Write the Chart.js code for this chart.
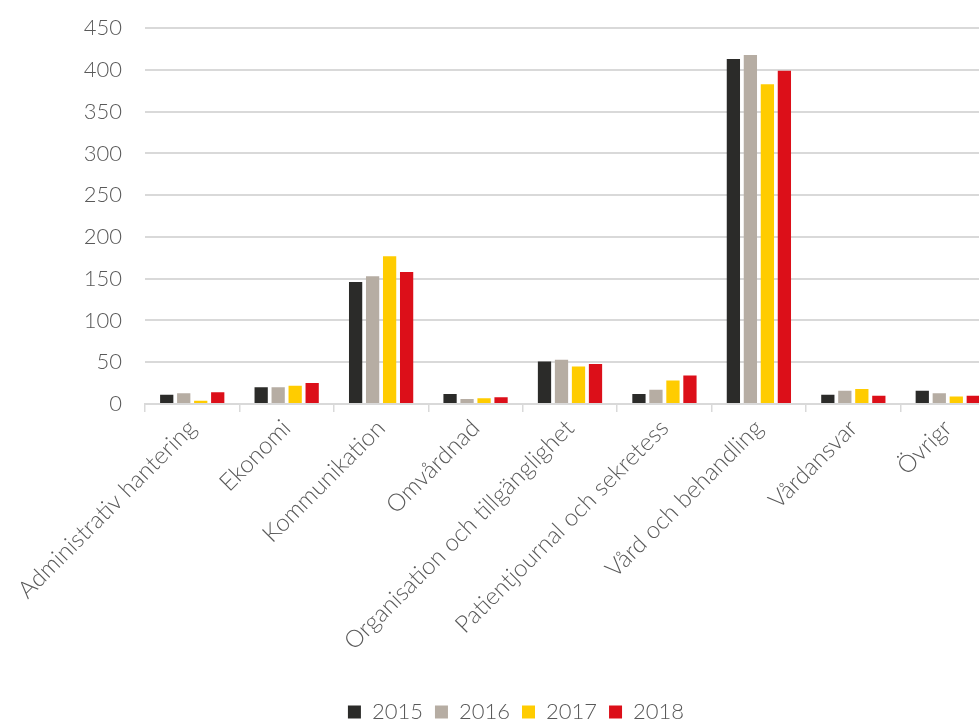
<!DOCTYPE html>
<html>
<head>
<meta charset="utf-8">
<script src="https://cdn.jsdelivr.net/npm/chart.js@4/dist/chart.umd.min.js"></script>
<style>
  html, body { margin: 0; padding: 0; background: #fff; overflow: hidden; }
  #wrap { width: 1024px; height: 722px; }
</style>
</head>
<body>
<div id="wrap"><canvas id="chart" width="1024" height="722"></canvas></div>
<script>
// Kategorier och värden per år
const kategorier = [
  "Administrativ hantering", "Ekonomi", "Kommunikation", "Omvårdnad",
  "Organisation och tillgänglighet", "Patientjournal och sekretess",
  "Vård och behandling", "Vårdansvar", "Övrigr"
];
const ar2015 = [11, 20, 146, 12, 51, 12, 413, 11, 16];
const ar2016 = [13, 20, 153, 6, 53, 17, 418, 16, 13];
const ar2017 = [4, 22, 177, 7, 45, 28, 383, 18, 9];
const ar2018 = [14, 25, 158, 8, 48, 34, 399, 10, 10];
const yTicks = [0, 50, 100, 150, 200, 250, 300, 350, 400, 450];

const textColor = "#595959";
const fontFam = "Lato, 'Open Sans', sans-serif";

new Chart(document.getElementById("chart").getContext("2d"), {
  type: "bar",
  data: {
    labels: kategorier,
    datasets: [
      { label: "2015", data: ar2015, backgroundColor: "#2b2b29" },
      { label: "2016", data: ar2016, backgroundColor: "#b6ada3" },
      { label: "2017", data: ar2017, backgroundColor: "#ffcc00" },
      { label: "2018", data: ar2018, backgroundColor: "#dc0f19" }
    ]
  },
  options: {
    responsive: false,
    animation: false,
    layout: { padding: { top: 20, right: 29, left: 37, bottom: -11 } },
    datasets: { bar: { categoryPercentage: 0.72, barPercentage: 0.78 } },
    plugins: {
      tooltip: { enabled: false },
      legend: {
        position: "bottom",
        labels: {
          color: textColor,
          font: { family: fontFam, size: 22, weight: 300 },
          boxWidth: 13,
          boxHeight: 13,
          padding: 12
        }
      }
    },
    scales: {
      x: {
        afterFit: axis => { axis.height = 285; },
        grid: { drawOnChartArea: false, drawTicks: true, tickLength: 8, color: "#d9d9d9", lineWidth: 1.5 },
        border: { color: "#d9d9d9", width: 2 },
        ticks: {
          color: textColor,
          font: { family: fontFam, size: 24, weight: 300 },
          minRotation: 45,
          maxRotation: 45,
          padding: 2,
          autoSkip: false
        }
      },
      y: {
        min: 0,
        max: 450,
        afterFit: axis => { axis.width = 108; },
        afterBuildTicks: axis => { axis.ticks = yTicks.map(v => ({ value: v })); },
        grid: { color: "#d9d9d9", lineWidth: 2, drawTicks: true, tickLength: 8, tickColor: "rgba(0,0,0,0)" },
        border: { display: false },
        ticks: {
          color: textColor,
          font: { family: fontFam, size: 22, weight: 300 },
          padding: 15
        }
      }
    }
  }
});
</script>
</body>
</html>
